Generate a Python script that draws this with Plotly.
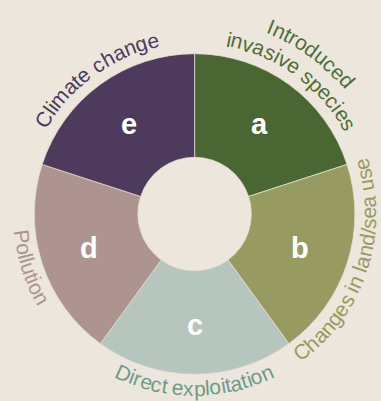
import math
import plotly.graph_objects as go

# ---------------- data ----------------
letters = ["a", "b", "c", "d", "e"]
driver_lines = [
    ["Introduced", "invasive species"],
    ["Changes in land/sea use"],
    ["Direct exploitation"],
    ["Pollution"],
    ["Climate change"],
]
shares = [1, 1, 1, 1, 1]
slice_colors = ["#4a6632", "#979b62", "#b6c6bf", "#ae9490", "#4e3a5c"]
label_colors = ["#4e6e3a", "#979b62", "#6f9b8d", "#ae9490", "#4e3a5c"]

# ---------------- layout constants ----------------
W, H = 381, 401
CX, CY = 194.6, 401 - 214.0   # donut centre (y measured upwards)
R_OUT = 160.3
HOLE = 0.354
BG = "#ece6dc"
FONT = "Liberation Sans, Arial, sans-serif"
FS = 21            # curved label font size
LETTER_R = 111
TOP_BASE = 171     # baseline radius of inner line, upper labels
LINE_GAP = 24
BOT_BASE = 181.5   # baseline radius, lower labels

# Arial / Liberation Sans advance widths (per 1000 em)
ADV = {" ": 278, "/": 278, "C": 722, "D": 722, "I": 278, "P": 667,
       "a": 556, "c": 500, "d": 556, "e": 556, "g": 556, "h": 556,
       "i": 222, "l": 222, "m": 833, "n": 556, "o": 556, "p": 556,
       "r": 333, "s": 500, "t": 278, "u": 556, "v": 500, "x": 500}

fig = go.Figure()
fig.add_trace(go.Pie(
    values=shares, labels=letters, sort=False, direction="clockwise",
    rotation=0, hole=HOLE, textinfo="none", hoverinfo="label",
    marker=dict(colors=slice_colors, line=dict(color="#e4ddd2", width=0.8)),
    domain=dict(x=[(CX - R_OUT) / W, (CX + R_OUT) / W],
                y=[(CY - R_OUT) / H, (CY + R_OUT) / H]),
    showlegend=False,
))

annotations = []
total = sum(shares)
cum = 0
centres = []
for s in shares:
    centres.append(90 - 360 * (cum + s / 2) / total)
    cum += s


def curved(text, theta_c, rb, upper, color):
    widths = [ADV.get(ch, 556) / 1000 * FS for ch in text]
    tot = sum(widths)
    s = 0
    for ch, w in zip(text, widths):
        sc = s + w / 2
        s += w
        if ch == " ":
            continue
        if upper:
            th = math.radians(theta_c) + (tot / 2 - sc) / rb
            rc = rb + 0.35 * FS
            ang = 90 - math.degrees(th)
        else:
            th = math.radians(theta_c) + (sc - tot / 2) / rb
            rc = rb - 0.35 * FS
            ang = 270 - math.degrees(th)
        ang = (ang + 180) % 360 - 180
        annotations.append(dict(
            x=CX + rc * math.cos(th), y=CY + rc * math.sin(th),
            xref="x", yref="y", text=ch, showarrow=False, borderpad=0,
            textangle=ang, xanchor="center", yanchor="middle",
            font=dict(family=FONT, size=FS, color=color)))


for i, th in enumerate(centres):
    t = math.radians(th)
    annotations.append(dict(
        x=CX + LETTER_R * math.cos(t), y=CY + LETTER_R * math.sin(t),
        xref="x", yref="y", text="<b>%s</b>" % letters[i], showarrow=False,
        xanchor="center", yanchor="middle",
        font=dict(family=FONT, size=29, color="white")))
    upper = math.sin(t) > 0
    lines = driver_lines[i]
    n = len(lines)
    for j, line in enumerate(lines):
        if upper:
            rb = TOP_BASE + (n - 1 - j) * LINE_GAP
        else:
            rb = BOT_BASE + j * LINE_GAP
        curved(line, th, rb, upper, label_colors[i])

fig.update_layout(
    width=W, height=H, margin=dict(l=0, r=0, t=0, b=0),
    paper_bgcolor=BG, plot_bgcolor=BG,
    xaxis=dict(range=[0, W], visible=False, fixedrange=True, domain=[0, 1]),
    yaxis=dict(range=[0, H], visible=False, fixedrange=True, domain=[0, 1]),
    annotations=annotations, showlegend=False,
)
fig.write_html("out.html")
